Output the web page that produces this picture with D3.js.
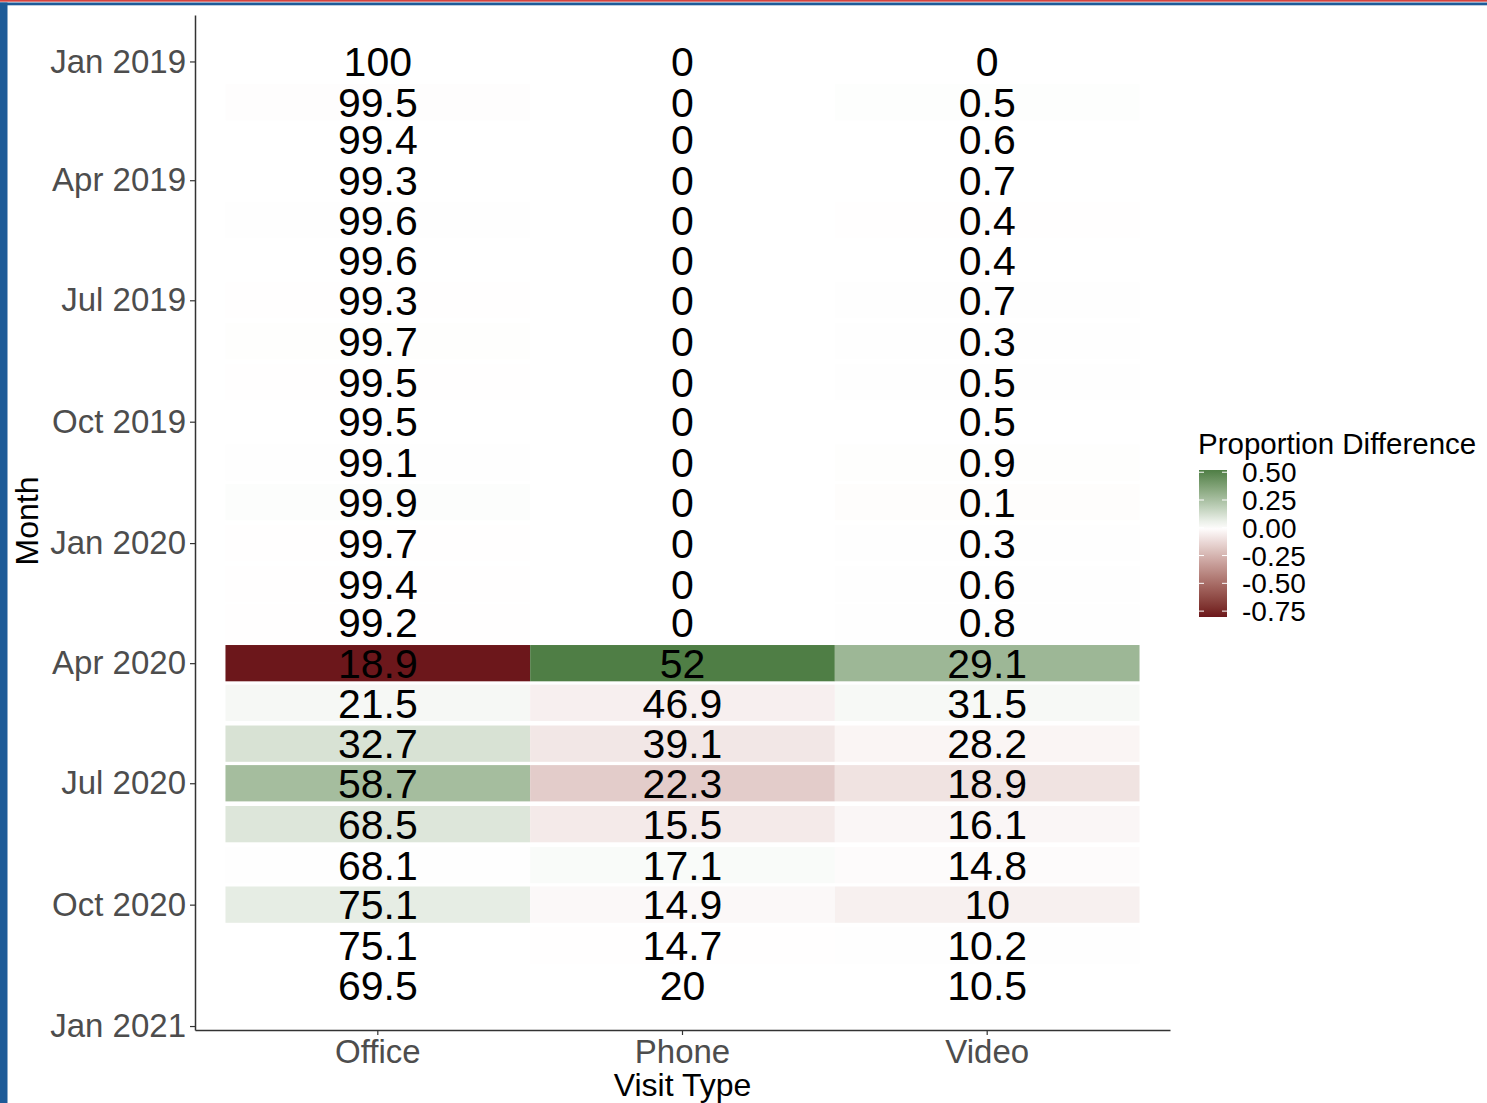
<!DOCTYPE html>
<html>
<head>
<meta charset="utf-8">
<script src="https://cdn.jsdelivr.net/npm/d3@7"></script>
<style>
  body { margin: 0; background: #fff; }
  svg { display: block; font-family: "Liberation Sans", Arial, Helvetica, sans-serif; }
</style>
</head>
<body>
<svg id="chart" width="1487" height="1103"></svg>
<script>
const months = ['2019-01','2019-02','2019-03','2019-04','2019-05','2019-06','2019-07','2019-08','2019-09','2019-10','2019-11','2019-12',
  '2020-01','2020-02','2020-03','2020-04','2020-05','2020-06','2020-07','2020-08','2020-09','2020-10','2020-11','2020-12'];
const visitTypes = ['Office', 'Phone', 'Video'];

// percent of visits by type, one value per month
const officePct = [100, 99.5, 99.4, 99.3, 99.6, 99.6, 99.3, 99.7, 99.5, 99.5, 99.1, 99.9,
  99.7, 99.4, 99.2, 18.9, 21.5, 32.7, 58.7, 68.5, 68.1, 75.1, 75.1, 69.5];
const phonePct = [0, 0, 0, 0, 0, 0, 0, 0, 0, 0, 0, 0,
  0, 0, 0, 52, 46.9, 39.1, 22.3, 15.5, 17.1, 14.9, 14.7, 20];
const videoPct = [0, 0.5, 0.6, 0.7, 0.4, 0.4, 0.7, 0.3, 0.5, 0.5, 0.9, 0.1,
  0.3, 0.6, 0.8, 29.1, 31.5, 28.2, 18.9, 16.1, 14.8, 10, 10.2, 10.5];

// proportion difference vs previous month (tile fill), null = no tile
const officeDiff = [null, -0.005, -0.001, -0.001, 0.003, 0.000, -0.003, 0.004, -0.002, 0.000, -0.004, 0.008,
  -0.002, -0.003, -0.002, -0.803, 0.026, 0.112, 0.260, 0.098, -0.004, 0.070, 0.000, null];
const phoneDiff = [null, 0, 0, 0, 0, 0, 0, 0, 0, 0, 0, 0,
  0, 0, 0, 0.520, -0.051, -0.078, -0.168, -0.068, 0.016, -0.022, -0.002, null];
const videoDiff = [null, 0.005, 0.001, 0.001, -0.003, 0.000, 0.003, -0.004, 0.002, 0.000, 0.004, -0.008,
  0.002, 0.003, 0.002, 0.283, 0.024, -0.033, -0.093, -0.028, -0.013, -0.048, 0.002, null];

const yTickMonths = ['2019-01','2019-04','2019-07','2019-10','2020-01','2020-04','2020-07','2020-10','2021-01'];
const legendTicks = [0.5, 0.25, 0, -0.25, -0.5, -0.75];

const parseMonth = d3.utcParse('%Y-%m');
const pctByType = { Office: officePct, Phone: phonePct, Video: videoPct };
const diffByType = { Office: officeDiff, Phone: phoneDiff, Video: videoDiff };

const cells = months.flatMap((m, i) => visitTypes.map(t => ({
  month: parseMonth(m), type: t, pct: pctByType[t][i], diff: diffByType[t][i]
})));

const svg = d3.select('#chart');

// slide frame bits
svg.append('rect').attr('x', 0).attr('y', 0).attr('width', 1487).attr('height', 1.7).attr('fill', '#d4443f');
svg.append('rect').attr('x', 0).attr('y', 2.5).attr('width', 1487).attr('height', 2.8).attr('fill', '#1e5b98');
svg.append('rect').attr('x', 0).attr('y', 2.5).attr('width', 7.5).attr('height', 1101).attr('fill', '#1e5b98');

const panel = { left: 195, right: 1170, top: 15, bottom: 1030 };

const x = d3.scaleBand()
  .domain(visitTypes)
  .range([panel.left, panel.right])
  .paddingInner(0)
  .paddingOuter(0.1);

const first = parseMonth(months[0]);
const y = d3.scaleUtc()
  .domain([d3.utcHour.offset(first, -845), d3.utcDay.offset(parseMonth('2021-01'), 3)])
  .range([panel.top, panel.bottom]);

const diffs = cells.map(d => d.diff).filter(d => d != null);
const dmin = d3.min(diffs), dmax = d3.max(diffs);
const color = d3.scaleLinear()
  .domain([dmin, 0, dmax])
  .range(['#6c171b', '#ffffff', '#4f7e45'])
  .interpolate(d3.interpolateLab);

const halfTile = 330; // hours, tile is ~27.5 days tall

svg.append('g')
  .selectAll('rect')
  .data(cells.filter(d => d.diff != null))
  .join('rect')
  .attr('x', d => x(d.type))
  .attr('width', x.bandwidth())
  .attr('y', d => y(d3.utcHour.offset(d.month, -halfTile)))
  .attr('height', d => y(d3.utcHour.offset(d.month, halfTile)) - y(d3.utcHour.offset(d.month, -halfTile)))
  .attr('fill', d => color(d.diff));

svg.append('g')
  .selectAll('text')
  .data(cells)
  .join('text')
  .attr('x', d => x(d.type) + x.bandwidth() / 2)
  .attr('y', d => y(d.month))
  .attr('dy', '0.36em')
  .attr('text-anchor', 'middle')
  .style('font-size', '41px')
  .attr('fill', '#000')
  .text(d => String(d.pct));

// axes
const yAxis = svg.append('g')
  .attr('transform', `translate(${panel.left},0)`)
  .call(d3.axisLeft(y)
    .tickValues(yTickMonths.map(parseMonth))
    .tickFormat(d3.utcFormat('%b %Y'))
    .tickSize(5)
    .tickSizeOuter(0)
    .tickPadding(4));

const xAxis = svg.append('g')
  .attr('transform', `translate(0,${panel.bottom})`)
  .call(d3.axisBottom(x).tickSize(5).tickSizeOuter(0).tickPadding(5));

[yAxis, xAxis].forEach(g => {
  g.attr('font-family', null).attr('font-size', null);
  g.select('.domain').attr('stroke', '#333').attr('stroke-width', 1.5);
  g.selectAll('.tick line').attr('stroke', '#333').attr('stroke-width', 1.2);
  g.selectAll('.tick text').attr('fill', '#4d4d4d').style('font-size', '33px');
});

svg.append('text')
  .attr('transform', 'translate(38,521) rotate(-90)')
  .attr('text-anchor', 'middle')
  .style('font-size', '32px')
  .attr('fill', '#000')
  .text('Month');

svg.append('text')
  .attr('x', (panel.left + panel.right) / 2)
  .attr('y', 1096)
  .attr('text-anchor', 'middle')
  .style('font-size', '32px')
  .attr('fill', '#000')
  .text('Visit Type');

// legend
const legend = svg.append('g');
const barX = 1199, barW = 28;
const ly = d3.scaleLinear().domain([dmin, dmax]).range([617, 470]);

const grad = svg.append('defs').append('linearGradient')
  .attr('id', 'diffGrad')
  .attr('x1', 0).attr('y1', 1).attr('x2', 0).attr('y2', 0);
grad.selectAll('stop')
  .data(d3.range(0, 1.0001, 0.05))
  .join('stop')
  .attr('offset', t => t)
  .attr('stop-color', t => color(dmin + t * (dmax - dmin)));

legend.append('rect')
  .attr('x', barX).attr('y', ly(dmax))
  .attr('width', barW).attr('height', ly(dmin) - ly(dmax))
  .attr('fill', 'url(#diffGrad)');

legend.selectAll('line.lt')
  .data(legendTicks.flatMap(v => [[v, barX, barX + 5], [v, barX + barW - 5, barX + barW]]))
  .join('line')
  .attr('class', 'lt')
  .attr('x1', d => d[1]).attr('x2', d => d[2])
  .attr('y1', d => ly(d[0])).attr('y2', d => ly(d[0]))
  .attr('stroke', '#fff').attr('stroke-width', 1);

legend.selectAll('text.lab')
  .data(legendTicks)
  .join('text')
  .attr('class', 'lab')
  .attr('x', 1242)
  .attr('y', d => ly(d))
  .attr('dy', '0.36em')
  .style('font-size', '28px')
  .attr('fill', '#000')
  .text(d => d3.format('.2f')(d).replace('\u2212', '-'));

legend.append('text')
  .attr('x', 1198)
  .attr('y', 443)
  .attr('dy', '0.36em')
  .style('font-size', '29.5px')
  .attr('fill', '#000')
  .text('Proportion Difference');
</script>
</body>
</html>
